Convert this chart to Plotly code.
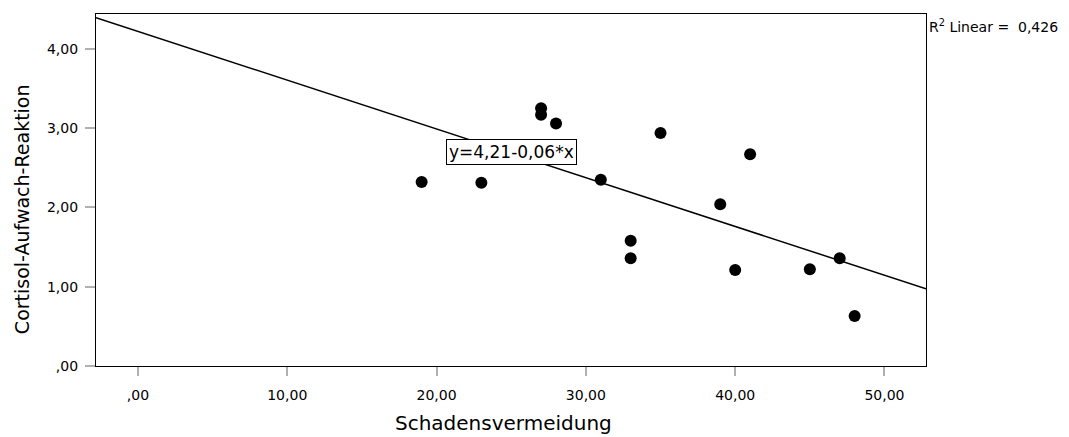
import numpy as np
import plotly.graph_objects as go

# Data
schadensvermeidung = [19, 23, 27, 27, 28, 31, 33, 33, 35, 39, 40, 41, 45, 47, 48]
cortisol = [2.32, 2.31, 3.25, 3.17, 3.06, 2.35, 1.58, 1.36, 2.94, 2.04, 1.21, 2.67, 1.22, 1.36, 0.63]

x_tickvals = [0, 10, 20, 30, 40, 50]
x_ticktext = [",00", "10,00", "20,00", "30,00", "40,00", "50,00"]
y_tickvals = [0, 1, 2, 3, 4]
y_ticktext = [",00", "1,00", "2,00", "3,00", "4,00"]

x_range = [-2.81, 52.78]
y_range = [0, 4.44]

# Linear fit line (as shown: y = 4,21 - 0,06*x)
intercept = 4.22
slope = -0.0615
fit_x = np.array(x_range)
fit_y = intercept + slope * fit_x

FONT = "DejaVu Sans"

fig = go.Figure()
fig.add_trace(go.Scatter(
    x=fit_x, y=fit_y, mode="lines",
    line=dict(color="black", width=1.5),
    hoverinfo="skip", showlegend=False, cliponaxis=True,
))
fig.add_trace(go.Scatter(
    x=schadensvermeidung, y=cortisol, mode="markers",
    marker=dict(color="black", size=12, line=dict(width=0)),
    showlegend=False,
))

fig.add_annotation(
    x=25.0, y=2.705, xref="x", yref="y",
    text="y=4,21-0,06*x", showarrow=False,
    font=dict(family=FONT, size=17, color="black"),
    bgcolor="white", bordercolor="black", borderwidth=1, borderpad=2,
)
fig.add_annotation(
    x=1.001, y=0.966, xref="paper", yref="paper",
    xanchor="left", yanchor="middle",
    text="R<sup>2</sup> Linear =\u00a0\u00a00,426", showarrow=False,
    font=dict(family=FONT, size=14, color="black"),
)
# Axis titles
fig.add_annotation(
    x=0.491, y=-0.162, xref="paper", yref="paper",
    xanchor="center", yanchor="middle",
    text="Schadensvermeidung", showarrow=False,
    font=dict(family=FONT, size=20, color="black"),
)
fig.add_annotation(
    x=-0.089, y=0.446, xref="paper", yref="paper",
    xanchor="center", yanchor="middle", textangle=-90,
    text="Cortisol-Aufwach-Reaktion", showarrow=False,
    font=dict(family=FONT, size=19, color="black"),
)

axis_common = dict(
    showgrid=False, zeroline=False, showline=True, linecolor="black", linewidth=1.3,
    mirror=True, ticks="outside", tickcolor="#b0b0b0", tickwidth=1.5,
    tickfont=dict(family=FONT, size=14, color="black"),
)

fig.update_layout(
    width=1069, height=437,
    margin=dict(l=96, r=143, t=14, b=71),
    paper_bgcolor="white", plot_bgcolor="white",
    font=dict(family=FONT, color="black"),
    xaxis=dict(
        range=x_range, tickvals=x_tickvals, ticktext=x_ticktext,
        ticklen=9, ticklabelstandoff=7,
        **axis_common,
    ),
    yaxis=dict(
        range=y_range, tickvals=y_tickvals, ticktext=y_ticktext,
        ticklen=10, ticklabelstandoff=4,
        **axis_common,
    ),
)

fig.write_html("out.html")
